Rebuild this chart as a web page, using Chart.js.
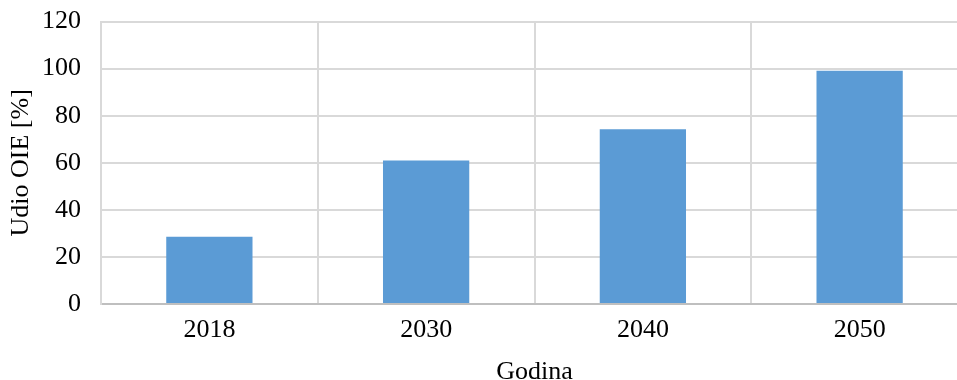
<!DOCTYPE html>
<html>
<head>
<meta charset="utf-8">
<script src="https://cdn.jsdelivr.net/npm/chart.js@4.4.0/dist/chart.umd.min.js"></script>
<style>
html,body{margin:0;padding:0;background:#fff;}
#wrap{width:957px;height:380px;overflow:hidden;}
#c{display:block;margin-top:-14px;}
</style>
</head>
<body>
<div id="wrap"><canvas id="c" width="968" height="394"></canvas></div>
<script>
const categories = ["2018", "2030", "2040", "2050"];
const udioOIE = [28.6, 61.0, 74.3, 99.1];
const yTicks = [0, 20, 40, 60, 80, 100, 120];

const FONT = "'Liberation Serif', 'Times New Roman', serif";
const FS = 26;
new Chart(document.getElementById('c'), {
  type: 'bar',
  data: {
    labels: categories,
    datasets: [{
      data: udioOIE,
      backgroundColor: '#5B9BD5',
      borderWidth: 0,
      categoryPercentage: 1,
      barPercentage: 0.398
    }]
  },
  options: {
    responsive: false,
    animation: false,
    devicePixelRatio: 1,
    layout: { padding: { left: 0, right: 0, top: 0, bottom: 0 } },
    plugins: { legend: { display: false }, tooltip: { enabled: false } },
    scales: {
      x: {
        afterFit: (axis) => { axis.height = 76; },
        grid: { color: '#d9d9d9', lineWidth: 2, drawTicks: false, offset: true },
        border: { color: '#bfbfbf', width: 2 },
        ticks: { color: '#000', font: { family: FONT, size: FS }, padding: 11 },
        title: { display: true, text: 'Godina', color: '#000', font: { family: FONT, size: FS }, padding: { top: 0, bottom: -8 } }
      },
      y: {
        min: 0, max: 120,
        afterFit: (axis) => { axis.width = 101; },
        afterBuildTicks: (axis) => { axis.ticks = yTicks.map(v => ({ value: v })); },
        grid: { color: '#d9d9d9', lineWidth: 2, drawTicks: false },
        border: { color: '#d9d9d9', width: 2 },
        ticks: { color: '#000', font: { family: FONT, size: FS }, padding: 20 },
        title: { display: true, text: 'Udio OIE [%]', color: '#000', font: { family: FONT, size: FS }, padding: { top: 6, bottom: 0 } }
      }
    }
  }
});
</script>
</body>
</html>
